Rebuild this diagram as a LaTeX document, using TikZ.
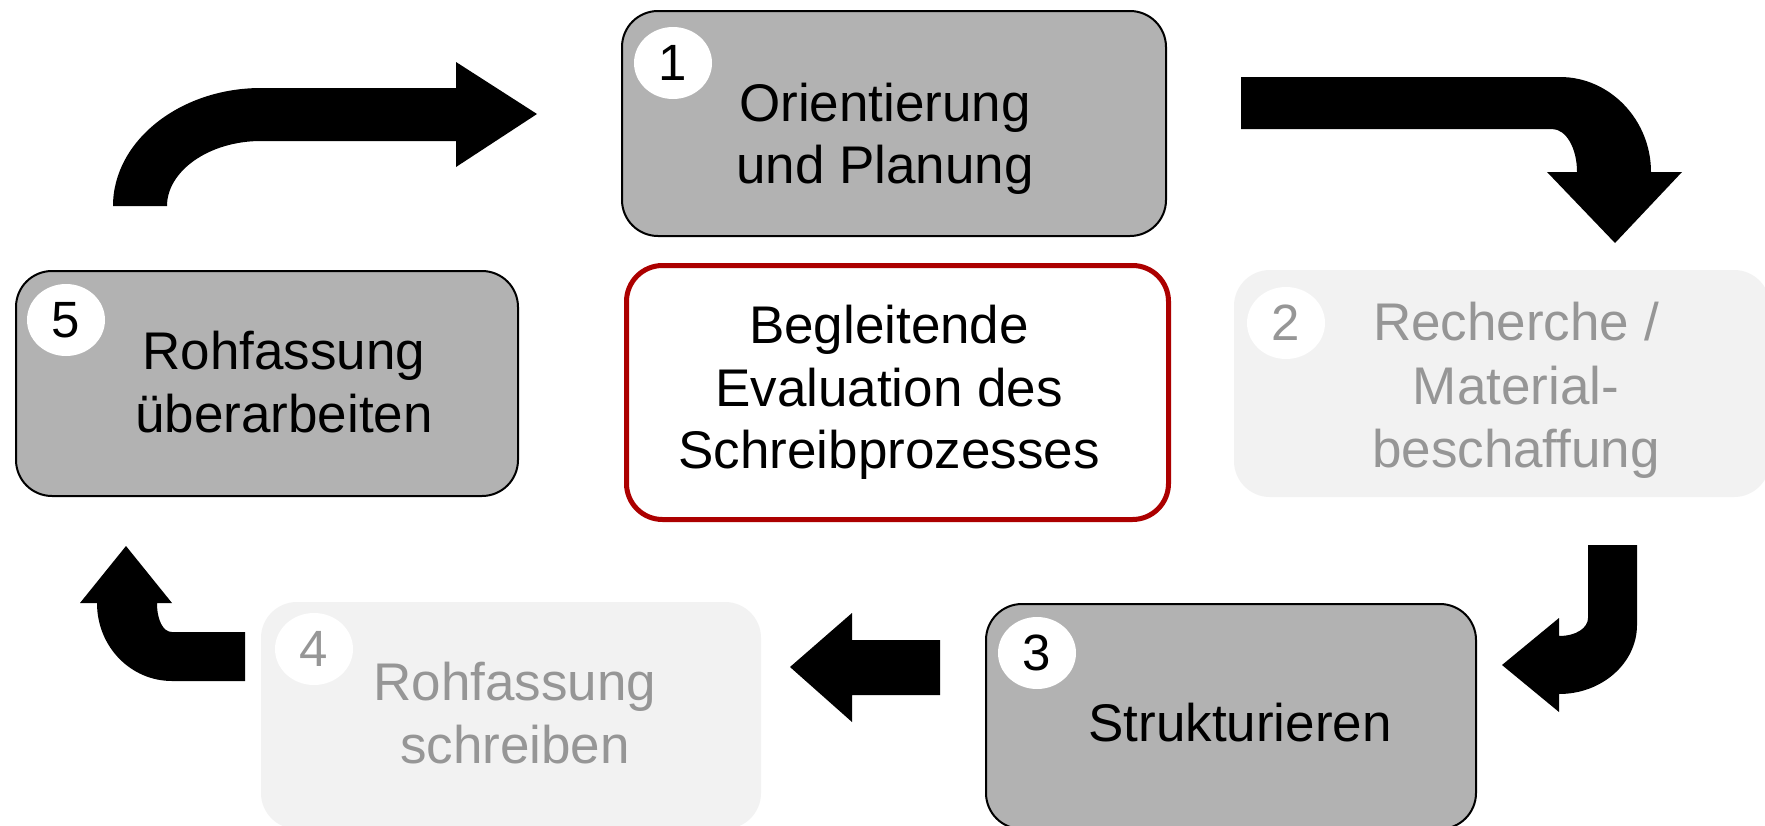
\documentclass[tikz,border=0pt]{standalone}
\usepackage{fontspec}
\setmainfont{Liberation Sans}
\usetikzlibrary{shapes.geometric}
\definecolor{boxgray}{RGB}{178,178,178}
\definecolor{lightbox}{RGB}{242,242,242}
\definecolor{fadetext}{RGB}{150,150,150}
\definecolor{darkred}{RGB}{172,0,0}
\begin{document}
\begin{tikzpicture}[x=1pt,y=-1pt,
  graybox/.style={draw=black, line width=2pt, fill=boxgray, rounded corners=36pt, inner sep=0pt, outer sep=0pt},
  fadebox/.style={draw=none, fill=lightbox, rounded corners=36pt, inner sep=0pt, outer sep=0pt},
  evalbox/.style={draw=darkred, line width=5pt, fill=white, rounded corners=36pt, inner sep=0pt, outer sep=0pt},
  numdisc/.style={ellipse, fill=white, minimum width=78pt, minimum height=72pt, inner sep=0pt, font=\fontsize{51}{51}\selectfont},
  steptext/.style={anchor=base, inner sep=0pt, font=\fontsize{53}{62.5}\selectfont},
  fadetext/.style={steptext, text=fadetext},
  blockarrow/.style={fill=black, draw=none}
]
\useasboundingbox (0,0) rectangle (1765,825);
\clip (0,0) rectangle (1765,825);
\fill[white] (0,0) rectangle (1765,825);

% boxes
\node[graybox, minimum width=544pt, minimum height=225pt] (b1) at (894,123.5) {};
\node[fadebox, minimum width=536pt, minimum height=227pt] (b2) at (1502,383.5) {};
\node[graybox, minimum width=490pt, minimum height=225pt] (b3) at (1231,716.5) {};
\node[fadebox, minimum width=500pt, minimum height=227pt] (b4) at (511,715.5) {};
\node[graybox, minimum width=502pt, minimum height=225pt] (b5) at (267,383.5) {};
\node[evalbox, minimum width=542pt, minimum height=254pt] (ev) at (897.5,392.5) {};

% number discs
\node[numdisc] (c1) at (673,63) {1};
\node[numdisc, text=fadetext] (c2) at (1286,323) {2};
\node[numdisc] (c3) at (1037,653) {3};
\node[numdisc, text=fadetext] (c4) at (314,649) {4};
\node[numdisc] (c5) at (66,320) {5};

% texts
\node[steptext] (t1a) at (885,121) {Orientierung};
\node[steptext] (t1b) at (885,183) {und Planung};
\node[fadetext] (t2a) at (1516,340) {Recherche /};
\node[fadetext] (t2b) at (1516,404) {Material-};
\node[fadetext] (t2c) at (1516,467) {beschaffung};
\node[steptext] (t3a) at (1240,741) {Strukturieren};
\node[fadetext] (t4a) at (515,700) {Rohfassung};
\node[fadetext] (t4b) at (515,763) {schreiben};
\node[steptext] (t5a) at (284,369) {Rohfassung};
\node[steptext] (t5b) at (284,432) {überarbeiten};
\node[steptext] (tea) at (889,343) {Begleitende};
\node[steptext] (teb) at (889,406) {Evaluation des};
\node[steptext] (tec) at (889,468) {Schreibprozesses};

% block arrows
\fill[blockarrow] (113,206) .. controls (113,141) and (180,88) .. (261,88) -- (456,88) -- (456,62) -- (537,114) -- (456,167) -- (456,141) -- (261,141) .. controls (209,141) and (167,171) .. (167,206) -- cycle;
\fill[blockarrow] (1241,77) -- (1560,77) .. controls (1610,77) and (1651,120) .. (1651,172) -- (1682,172) -- (1615,243) -- (1547,172) -- (1577,172) .. controls (1577,148) and (1566,129) .. (1552,129) -- (1241,129) -- cycle;
\fill[blockarrow] (1588,545) -- (1637,545) -- (1637,625) .. controls (1637,663) and (1602,694) .. (1559,694) -- (1559,712) -- (1502,665) -- (1559,618) -- (1559,636) .. controls (1576,636) and (1588,628) .. (1588,618) -- cycle;
\fill[blockarrow] (940,640) -- (852,640) -- (852,613) -- (790,667) -- (852,722) -- (852,695) -- (940,695) -- cycle;
\fill[blockarrow] (245,681) -- (172,681) .. controls (131,681) and (97,647) .. (97,603) -- (80,603) -- (126,546) -- (172,603) -- (157,603) .. controls (157,620) and (163,632) .. (172,632) -- (245,632) -- cycle;
\end{tikzpicture}
\end{document}
